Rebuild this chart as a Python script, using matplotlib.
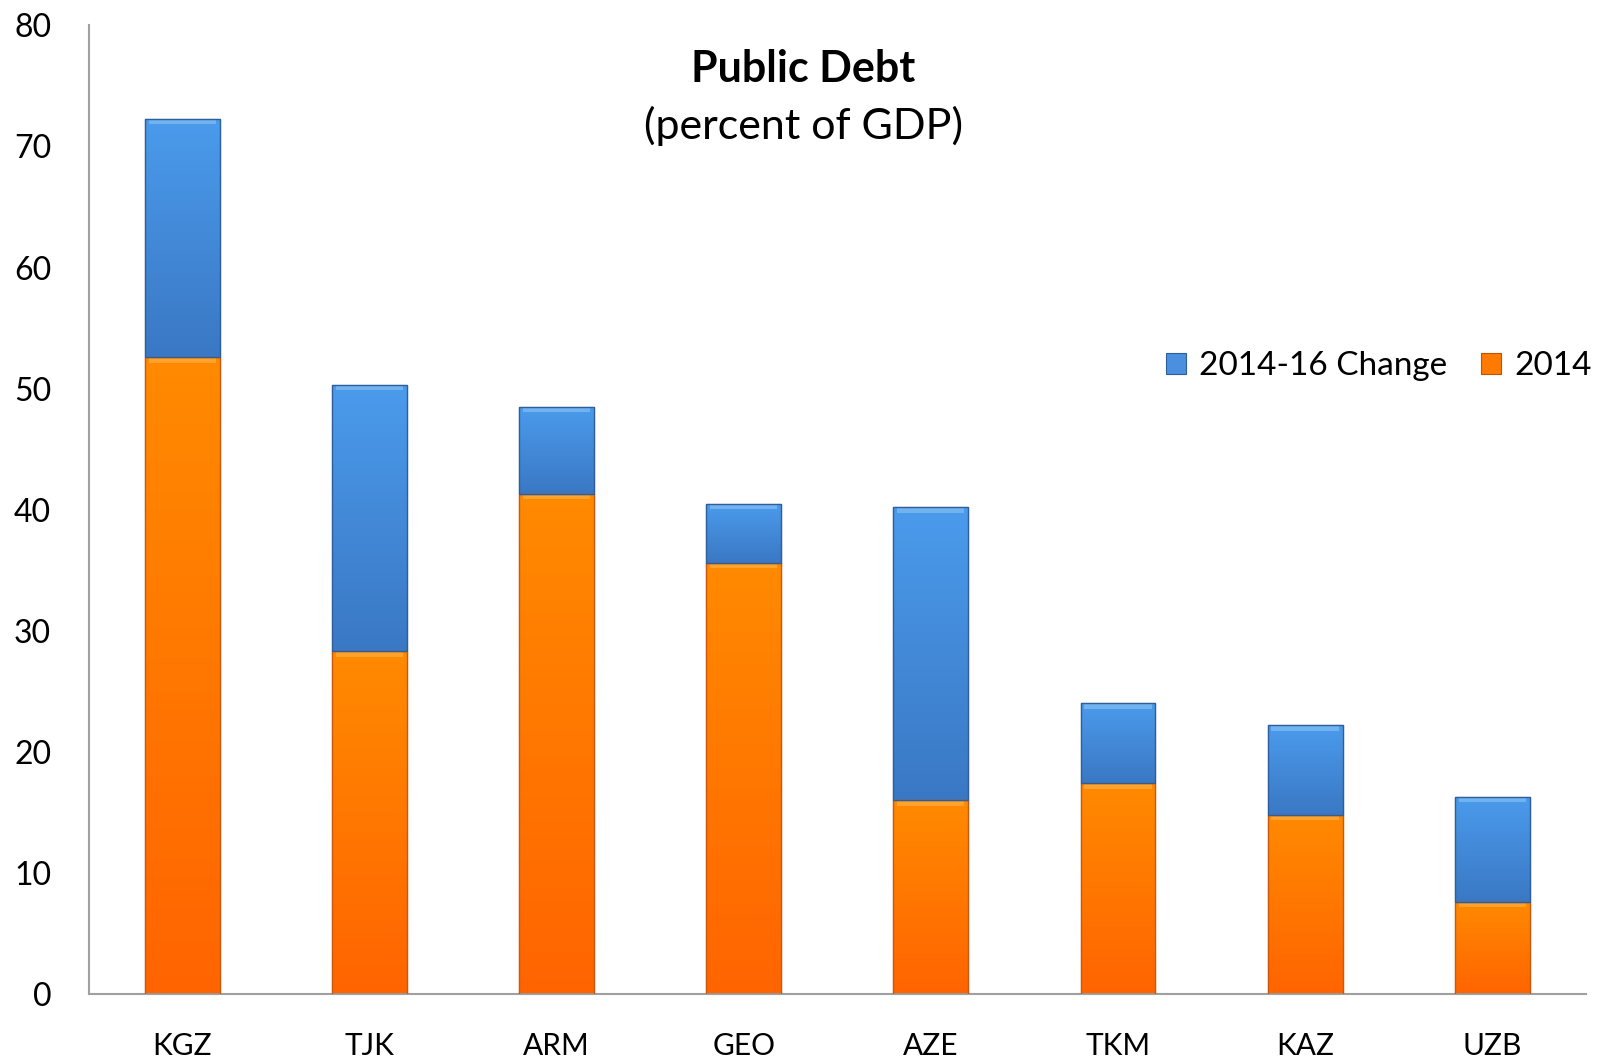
import numpy as np
import matplotlib.pyplot as plt
from matplotlib.colors import LinearSegmentedColormap
from matplotlib.patches import Rectangle

countries = ["KGZ", "TJK", "ARM", "GEO", "AZE", "TKM", "KAZ", "UZB"]
debt_2014 = [52.6, 28.3, 41.3, 35.6, 16.0, 17.4, 14.8, 7.6]
change_2014_16 = [19.7, 22.0, 7.2, 4.9, 24.2, 6.6, 7.4, 8.7]

plt.rcParams['font.family'] = ['Lato', 'DejaVu Sans']

fig = plt.figure(figsize=(15.97, 10.57), dpi=100)
ax = fig.add_axes([0.0555, 0.0596, 0.9375, 0.9164])

x = np.arange(len(countries))
width = 0.4

orange_cmap = LinearSegmentedColormap.from_list("org", ["#ff6400", "#ff8a00"])
blue_cmap = LinearSegmentedColormap.from_list("blu", ["#3a78c4", "#4b9bec"])

bars_orange = ax.bar(x, debt_2014, width, color="#ff7a00", edgecolor="#c45200",
                     linewidth=0.8, label="2014", zorder=2)
bars_blue = ax.bar(x, change_2014_16, width, bottom=debt_2014, color="#4a8fe0",
                   edgecolor="#2f5f9a", linewidth=0.8, label="2014-16 Change", zorder=2)

# vertical gradient inside each bar segment, then outline and top bevel
grad = np.linspace(0, 1, 256).reshape(-1, 1)
for bars, cmap, edge, hi in ((bars_orange, orange_cmap, "#c85a10", "#ffb54a"),
                             (bars_blue, blue_cmap, "#2f5f9a", "#8cc4f5")):
    for b in bars:
        x0, y0 = b.get_x(), b.get_y()
        w, h = b.get_width(), b.get_height()
        im = ax.imshow(grad, cmap=cmap, origin="lower", aspect="auto",
                       extent=[x0, x0 + w, y0, y0 + h], zorder=2.5)
        im.set_clip_path(b)
        ax.fill_between([x0 + 0.02, x0 + w - 0.02], y0 + h - 0.45, y0 + h,
                        color=hi, alpha=0.6, linewidth=0, zorder=3)
        ax.add_patch(Rectangle((x0, y0), w, h, fill=False, edgecolor=edge,
                               linewidth=1.0, zorder=3.5))

ax.set_xlim(-0.5, len(countries) - 0.5)
ax.set_ylim(0, 80)
ax.set_yticks(range(0, 81, 10))
ax.set_xticks(x)
ax.set_xticklabels(countries)
ax.tick_params(axis="both", length=0)
ax.tick_params(axis="y", pad=27, labelsize=23)
ax.tick_params(axis="x", pad=27, labelsize=21.5)

for side in ("top", "right"):
    ax.spines[side].set_visible(False)
for side in ("left", "bottom"):
    ax.spines[side].set_color("#a0a0a0")
    ax.spines[side].set_linewidth(1.5)

fig.text(0.503, 0.935, "Public Debt", ha="center", va="center",
         fontsize=31, fontweight="bold")
fig.text(0.503, 0.881, "(percent of GDP)", ha="center", va="center", fontsize=31)

handles = [bars_blue, bars_orange]
ax.legend(handles, ["2014-16 Change", "2014"], loc="center right",
          bbox_to_anchor=(1.024, 0.648), ncol=2, frameon=False, fontsize=24,
          handlelength=0.6, handleheight=0.6, handletextpad=0.4, columnspacing=1.0)

fig.savefig("out.png", dpi=100)
